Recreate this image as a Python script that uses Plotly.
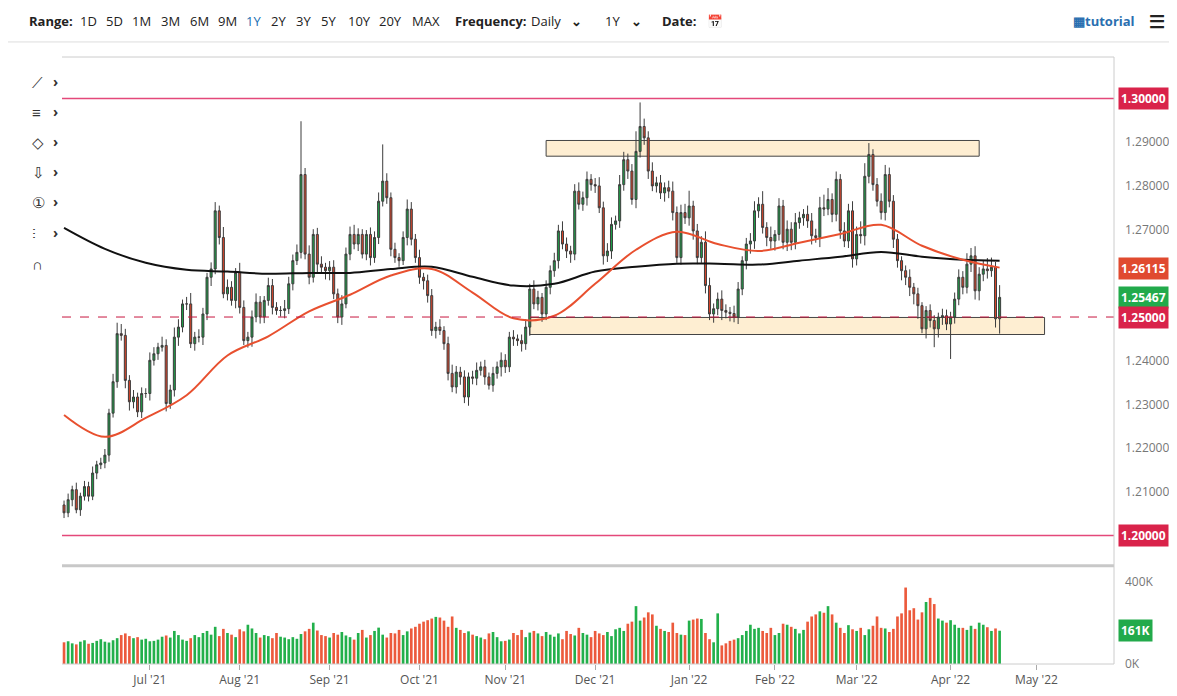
import pandas as pd
import plotly.graph_objects as go

# ---------------- data (USD/CAD daily) ----------------
closes = [
 1.2052,1.2082,1.2105,1.2059,1.2090,1.2112,1.2090,1.2143,1.2162,1.2166,
 1.2184,1.2280,1.2352,1.2462,1.2458,1.2355,1.2306,1.2317,1.2283,1.2325,
 1.2325,1.2401,1.2416,1.2431,1.2435,1.2302,1.2333,1.2454,1.2477,1.2530,
 1.2530,1.2439,1.2454,1.2454,1.2507,1.2591,1.2610,1.2743,1.2682,1.2553,
 1.2568,1.2538,1.2602,1.2522,1.2446,1.2454,1.2500,1.2534,1.2500,1.2538,
 1.2572,1.2522,1.2515,1.2515,1.2519,1.2576,1.2629,1.2648,1.2826,1.2644,
 1.2591,1.2689,1.2621,1.2614,1.2606,1.2614,1.2553,1.2500,1.2530,1.2644,
 1.2689,1.2667,1.2689,1.2644,1.2689,1.2636,1.2682,1.2765,1.2811,1.2773,
 1.2655,1.2636,1.2629,1.2682,1.2747,1.2678,1.2636,1.2591,1.2583,1.2549,
 1.2469,1.2477,1.2469,1.2439,1.2371,1.2340,1.2374,
 1.2363,1.2317,1.2363,1.2360,1.2378,1.2386,1.2363,1.2344,1.2371,1.2386,
 1.2401,1.2386,1.2454,1.2450,1.2446,1.2439,1.2477,1.2564,1.2530,1.2545,
 1.2507,1.2568,1.2606,1.2629,1.2697,1.2667,1.2651,1.2644,1.2788,1.2758,
 1.2773,1.2815,1.2803,1.2800,1.2750,1.2640,1.2651,1.2712,1.2720,1.2803,
 1.2860,1.2834,1.2769,1.2879,1.2936,1.2910,1.2834,1.2800,1.2807,1.2784,
 1.2796,1.2788,1.2739,1.2636,1.2739,1.2727,1.2754,1.2697,1.2636,1.2671,
 1.2572,1.2507,1.2519,1.2541,1.2515,1.2511,1.2508,1.2500,1.2564,1.2629,
 1.2667,1.2674,
 1.2743,1.2758,1.2705,1.2682,1.2674,1.2689,1.2754,1.2671,1.2701,1.2671,
 1.2716,1.2727,1.2735,1.2720,1.2686,1.2682,1.2750,1.2747,1.2769,1.2735,
 1.2815,1.2697,1.2674,1.2743,1.2633,1.2689,1.2686,1.2822,1.2872,1.2803,
 1.2765,1.2739,1.2826,1.2765,1.2678,1.2629,1.2606,1.2591,1.2568,1.2553,
 1.2526,1.2473,1.2515,1.2492,1.2473,1.2500,1.2503,1.2484,1.2500,1.2541,
 1.2591,1.2568,1.2621,1.2640,1.2560,1.2598,1.2610,1.2606,1.2614,1.2496,
 1.2545,
]
first_open = 1.2070

up_wick_pips = [
 10,14,9,16,8,13,11,15,9,12, 14,10,18,25,22,15,12,16,10,14,
 12,18,15,10,20,14,12,22,18,10, 16,25,12,18,14,10,15,20,12,24,
 18,14,10,22,16,12,15,20,14,10, 18,15,12,10,20,16,14,18,122,15,
 20,12,15,18,10,14,16,12,20,15, 18,22,14,12,10,16,14,20,84,18,
 12,15,10,14,22,16,12,18,10,14, 15,12,18,10,16,20,14,12,15,10,
 14,18,12,16,10,15,12,18,14,12, 16,10,14,18,12,20,15,10,16,12,
 18,14,22,15,12,16,20,14,18,12, 15,20,14,18,16,12,22,18,14,16,
 46,55,18,15,20,14,18,12,16,22, 14,18,20,35,12,16,14,25,18,12,
 15,20,14,12,18,16,10,14,18,22, 16,30,12,25,10,18,14,20,16,22,
 14,12,20,18,16,25,30,26,14,18, 12,20,16,22,18,30,30,26,12,15,
 18,22,16,14,12,10,12,18,10,14, 8,10,14,12,10,16,14,12,15,18,
 14,25,18,22,16,20,25,22,12,28,
]
down_wick_pips = [
 12,10,15,8,14,10,12,9,14,10, 12,15,10,14,12,18,20,15,12,14,
 10,16,12,14,10,18,12,15,20,12, 14,10,16,12,18,14,20,12,16,10,
 15,12,18,14,10,16,22,12,15,14, 12,16,10,14,18,12,15,10,14,12,
 16,12,18,14,20,22,12,14,18,10, 14,12,16,10,14,18,12,15,12,14,
 16,12,14,10,18,14,12,15,20,16, 12,18,10,14,16,12,15,18,14,20,
 14,16,12,18,10,15,12,22,14,12, 16,12,18,14,20,12,15,18,14,16,
 14,18,12,16,20,14,12,15,18,14, 16,12,20,14,18,12,16,14,18,12,
 20,14,16,18,12,15,14,20,16,18, 12,16,14,18,20,15,12,18,14,20,
 15,22,14,18,12,16,14,20,22,18, 16,14,20,18,22,14,16,20,18,16,
 14,18,16,20,12,22,16,14,18,16, 18,14,16,20,15,18,22,16,14,12,
 16,18,14,20,16,22,18,20,24,30, 10,22,16,42,20,18,14,80,15,14,
 16,14,18,20,22,16,18,14,20,34,
]
volume_k = [
 105,110,100,95,108,115,98,102,112,120, 108,104,115,125,140,148,135,125,130,118,
 122,110,112,118,132,138,128,160,140,118, 112,125,140,130,150,160,142,180,135,170,
 150,142,130,168,158,190,172,150,128,140, 135,125,150,132,128,120,130,122,145,158,
 170,200,162,140,135,128,150,142,155,138, 130,118,150,165,128,140,160,176,142,128,
 150,148,165,140,158,172,180,195,205,212, 220,228,225,210,180,230,175,165,150,158,
 142,135,128,120,148,155,130,110,112,118, 150,140,165,130,152,160,148,135,155,142,
 132,148,120,160,145,138,175,150,142,130, 160,148,140,155,135,168,175,160,195,205,
 280,210,225,250,240,185,170,160,155,200, 150,142,140,210,215,220,218,150,120,105,
 245,90,100,112,118,125,140,160,190,170, 175,160,150,175,140,150,195,190,180,170,
 148,165,205,230,240,255,248,280,240,200, 175,150,188,168,160,175,140,168,185,230,
 175,172,155,170,230,245,370,260,270,215, 250,300,320,290,220,210,200,212,190,175,
 175,165,185,170,200,190,178,160,172,161,
]
# moving averages sampled every 10 sessions (session index)
ma_idx = [0,10,20,30,40,50,60,70,80,90,100,110,120,130,140,150,160,170,180,190,200,210,220,229]
ma200 = [1.2704,1.2656,1.2624,1.2608,1.2604,1.2599,1.2601,1.2601,1.2610,1.2615,1.2592,1.2572,
         1.2576,1.2604,1.2615,1.2622,1.2622,1.2620,1.2629,1.2638,1.2649,1.2638,1.2631,1.2629]
ma50 = [1.2276,1.2226,1.2269,1.2321,1.2412,1.2456,1.2513,1.2551,1.2595,1.2610,1.2556,1.2497,
        1.2503,1.2576,1.2654,1.2695,1.2667,1.2651,1.2670,1.2690,1.2711,1.2663,1.2631,1.2613]
levels_solid = [1.30, 1.20]
level_dashed = 1.25
zones = [("2021-11-15", "2022-04-12", 1.2868, 1.2904), ("2021-11-09", "2022-05-04", 1.2460, 1.2499)]
price_ticks = [1.21,1.22,1.23,1.24,1.27,1.28,1.29,1.31]
vol_ticks = [0, 400]
vol_tick_text = ["0K", "400K"]

# ---------------- build ----------------
dates = pd.bdate_range(end="2022-04-19", periods=len(closes))
opens = [first_open] + closes[:-1]
highs = [max(o, c) + u / 10000 for o, c, u in zip(opens, closes, up_wick_pips)]
lows = [min(o, c) - d / 10000 for o, c, d in zip(opens, closes, down_wick_pips)]
ma_dates = [dates[i] for i in ma_idx]

GREEN, RED = "#1f9d48", "#d8452b"
fig = go.Figure()
fig.add_trace(go.Candlestick(
    x=dates, open=opens, high=highs, low=lows, close=closes,
    increasing=dict(line=dict(color="#3c3c3c", width=1), fillcolor=GREEN),
    decreasing=dict(line=dict(color="#3c3c3c", width=1), fillcolor=RED),
    whiskerwidth=0, showlegend=False, hoverinfo="skip", xaxis="x", yaxis="y"))
fig.add_trace(go.Scatter(x=ma_dates, y=ma200, mode="lines", line=dict(color="#111", width=2, shape="spline"),
                         showlegend=False, hoverinfo="skip"))
fig.add_trace(go.Scatter(x=ma_dates, y=ma50, mode="lines", line=dict(color="#e8502f", width=2, shape="spline"),
                         showlegend=False, hoverinfo="skip"))
vcol = ["#22b04b" if c >= o else "#ec5a3c" for o, c in zip(opens, closes)]
fig.add_trace(go.Bar(x=dates, y=volume_k, marker=dict(color=vcol, line=dict(width=0)),
                     showlegend=False, hoverinfo="skip", xaxis="x", yaxis="y2"))

shapes = []
for (x0, x1, y0, y1) in zones:
    shapes.append(dict(type="rect", xref="x", yref="y", x0=x0, x1=x1, y0=y0, y1=y1,
                       fillcolor="rgba(253,226,180,0.6)", line=dict(color="#444", width=1), layer="below"))
for lv in levels_solid:
    shapes.append(dict(type="line", xref="paper", yref="y", x0=0, x1=1, y0=lv, y1=lv,
                       line=dict(color="#e4487a", width=1.5)))
shapes.append(dict(type="line", xref="paper", yref="y", x0=0, x1=1, y0=level_dashed, y1=level_dashed,
                   line=dict(color="#c8163f", width=1, dash="dash")))
W, H = 1173, 692
def px(x): return (x - 62) / 1050
def py(y): return 1 + (57 - y) / 605
shapes += [
    dict(type="line", xref="paper", yref="paper", x0=px(8), x1=px(1177), y0=py(5), y1=py(5), line=dict(color="#ddd", width=1)),
    dict(type="line", xref="paper", yref="paper", x0=px(8), x1=px(1177), y0=py(42), y1=py(42), line=dict(color="#ddd", width=1)),
    dict(type="line", xref="paper", yref="paper", x0=0, x1=1, y0=py(564), y1=py(564), line=dict(color="#c8c8c8", width=3)),
    dict(type="line", xref="paper", yref="paper", x0=1, x1=1, y0=0, y1=1, line=dict(color="#ccc", width=1)),
    dict(type="line", xref="paper", yref="paper", x0=0, x1=1, y0=1, y1=1, line=dict(color="#ccc", width=1)),
    dict(type="line", xref="paper", yref="paper", x0=0, x1=1, y0=0, y1=0, line=dict(color="#ccc", width=1)),
]

ann = []
def tb(text, x, color="#222", bold=False, size=13):
    ann.append(dict(text=f"<b>{text}</b>" if bold else text, x=px(x), y=py(21), xref="paper", yref="paper",
                    xanchor="left", yanchor="middle", showarrow=False, font=dict(size=size, color=color)))
tb("Range:", 27, bold=True)
for t, x in [("1D", 78), ("5D", 104), ("1M", 130), ("3M", 159), ("6M", 188), ("9M", 216), ("1Y", 244),
             ("2Y", 269), ("3Y", 294), ("5Y", 319), ("10Y", 345), ("20Y", 376), ("MAX", 409)]:
    tb(t, x, color="#1a6fb3" if t == "1Y" else "#222")
tb("Frequency:", 452, bold=True)
tb("Daily", 528)
tb("⌄", 568, bold=True)
tb("1Y", 602)
tb("⌄", 628, bold=True)
tb("Date:", 659, bold=True)
tb("📅", 704, color="#2a6fb0")
tb("<b>▦tutorial</b>", 1069, color="#2a6fb0")
tb("☰", 1145, bold=True, size=18)
for gl, y in [("⟋", 70), ("≡", 100), ("◇", 130), ("⇩", 160), ("①", 190), ("⫶", 220), ("∩", 251)]:
    ann.append(dict(text=gl, x=px(30), y=py(y), xref="paper", yref="paper", showarrow=False,
                    font=dict(size=15, color="#333")))
    if y < 240:
        ann.append(dict(text="<b>›</b>", x=px(51), y=py(y), xref="paper", yref="paper", showarrow=False,
                        font=dict(size=14, color="#333")))

def tag(text, y, color, yref="y"):
    ann.append(dict(text=f"<b>{text}</b>", x=1.004, y=y, xref="paper", yref=yref, xanchor="left",
                    yanchor="middle", showarrow=False, bgcolor=color, font=dict(size=12, color="white"),
                    borderpad=2))
tag("1.30000", 1.30, "#d9234a")
tag("1.26115", ma50[-1] - 0.0002, "#e04a2f")
tag("1.25467", closes[-1], "#22aa4b")
tag("1.25000", 1.25, "#d9234a")
tag("1.20000", 1.20, "#d9234a")
tag("161K", volume_k[-1], "#22aa4b", yref="y2")

fig.update_layout(
    width=W, height=H, margin=dict(l=54, r=57, t=49, b=26),
    paper_bgcolor="white", plot_bgcolor="white",
    font=dict(family="Open Sans, sans-serif", size=12, color="#555"),
    bargap=0.35, shapes=shapes, annotations=ann,
    xaxis=dict(domain=[0, 1], anchor="y2", type="date",
               range=["2021-06-01 12:00", "2022-05-27"],
               rangebreaks=[dict(bounds=["sat", "mon"])],
               rangeslider=dict(visible=False), showgrid=False,
               tickformat="%b '%y", dtick="M1", tick0="2021-07-01", ticks="outside",
               ticklen=5, tickcolor="#aaa", tickfont=dict(size=12, color="#555"), zeroline=False),
    yaxis=dict(domain=[0.167, 1], side="right", range=[1.1938, 1.3095], tickvals=price_ticks,
               tickformat=".5f", showgrid=False, zeroline=False, tickfont=dict(size=12, color="#777"),
               ticks="", ticklabelstandoff=10),
    yaxis2=dict(domain=[0, 0.16], side="right", range=[0, 470], tickvals=vol_ticks, ticktext=vol_tick_text,
                showgrid=False, zeroline=False, tickfont=dict(size=12, color="#777"), ticklabelstandoff=10),
)
fig.update_traces(selector=dict(type="candlestick"), xaxis="x", yaxis="y")
fig.write_html("out.html")
